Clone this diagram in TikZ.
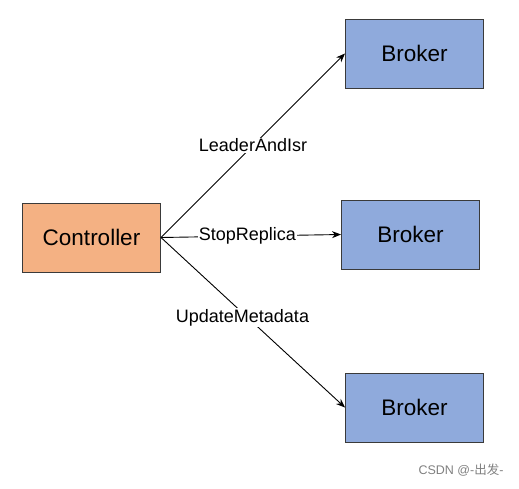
\documentclass[tikz,border=0pt]{standalone}
\usepackage{fontspec}
\setmainfont{Liberation Sans}
\newfontfamily\cjkfont{Noto Sans CJK SC}
\usetikzlibrary{arrows,arrows.meta}
\definecolor{ctrlorange}{HTML}{F4B183}
\definecolor{brokerblue}{HTML}{8FAADC}
\definecolor{boxline}{HTML}{3A3A3A}

\begin{document}
\begin{tikzpicture}[x=1pt,y=-1pt,
		box/.style={draw=boxline,line width=1pt,minimum width=138pt,minimum height=69pt,inner sep=0pt,font=\fontsize{22.5}{26}\selectfont},
		msg/.style={fill=white,inner sep=1pt,font=\fontsize{18}{20}\selectfont},
		conn/.style={-{Stealth[length=9pt,width=7pt]},line width=0.9pt}]
			\useasboundingbox (0,0) rectangle (519,488);
			\node[box,fill=ctrlorange] (ctrl) at (91.5,237.5) {Controller};
			\node[box,fill=brokerblue] (b1) at (414.5,53.5) {Broker};
			\node[box,fill=brokerblue] (b2) at (410.5,234.5) {Broker};
			\node[box,fill=brokerblue] (b3) at (414.5,407.5) {Broker};
			\draw[conn] (ctrl.east) -- node[msg,pos=0.5] {LeaderAndIsr} (b1.west);
			\draw[conn] (ctrl.east) -- node[msg,pos=0.48] {StopReplica} (b2.west);
			\draw[conn] (ctrl.east) -- node[msg,pos=0.47,xshift=-5pt] {UpdateMetadata} (b3.west);
			\node[text=gray,font=\fontsize{12.5}{14}\selectfont] (mark) at (461,470) {CSDN @-{\cjkfont 出发}-};
		\end{tikzpicture}
\end{document}
